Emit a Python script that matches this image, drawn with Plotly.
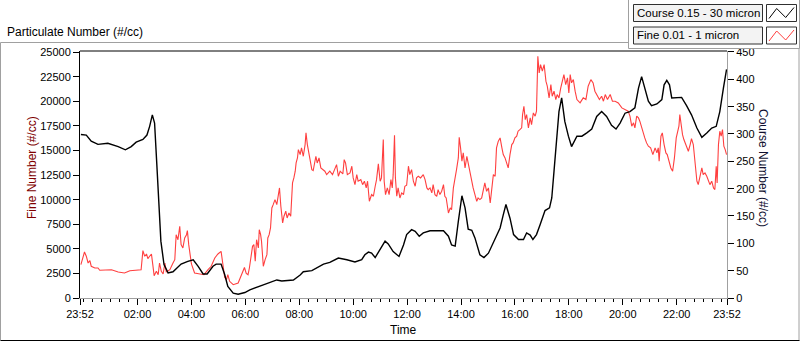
import pandas as pd
import plotly.graph_objects as go

# ---------------- data ----------------
start_time = "2000-01-01 23:52"

# Course 0.15 - 30 micron (right axis), minutes after start / #/cc
course_minutes = [2, 14, 25, 40, 62, 85, 101, 114, 125, 140,
                  149, 155, 161, 166, 171, 175, 180, 187, 196, 207,
                  225, 240, 252, 263, 274, 283, 296, 303, 314, 322,
                  329, 341, 352, 367, 378, 408, 430, 438, 449, 475,
                  490, 497, 516, 534, 542, 556, 575, 594, 612, 627,
                  634, 642, 649, 657, 668, 679, 686, 697, 710, 720,
                  727, 738, 746, 755, 764, 779, 809, 820, 827, 835,
                  842, 850, 857, 864, 872, 879, 890, 899, 909, 924,
                  935, 942, 948, 957, 965, 976, 987, 994, 1002, 1008,
                  1016, 1024, 1035, 1045, 1050, 1055, 1061, 1066, 1072, 1079,
                  1087, 1094, 1106, 1117, 1128, 1139, 1150, 1161, 1172, 1183,
                  1193, 1202, 1213, 1224, 1235, 1243, 1250, 1257, 1265, 1272,
                  1284, 1295, 1300, 1306, 1312, 1317, 1328, 1339, 1350, 1361,
                  1373, 1384, 1395, 1406, 1416, 1424, 1432, 1439]
course_values = [299, 298, 287, 281, 283, 277, 271, 277, 285, 290,
                 298, 314, 335, 320, 244, 171, 104, 61, 46, 48,
                 62, 67, 70, 58, 44, 44, 58, 62, 62, 43,
                 21, 9, 7, 10, 15, 24, 31, 33, 31, 33,
                 42, 48, 50, 58, 62, 65, 73, 70, 66, 70,
                 79, 84, 82, 74, 88, 104, 99, 85, 76, 97,
                 116, 125, 122, 113, 119, 123, 123, 113, 97, 95,
                 140, 187, 165, 126, 124, 110, 79, 74, 82, 110,
                 128, 152, 171, 146, 116, 107, 107, 119, 115, 107,
                 116, 134, 160, 165, 183, 232, 299, 341, 366, 323,
                 296, 277, 296, 296, 302, 309, 332, 341, 332, 316,
                 309, 320, 338, 341, 348, 384, 405, 384, 360, 352,
                 355, 363, 390, 398, 390, 366, 366, 367, 352, 335,
                 311, 294, 302, 311, 314, 341, 384, 418]

# Fine 0.01 - 1 micron (left axis), minutes after start / #/cc
fine_minutes = [2, 7, 10, 14, 18, 22, 25, 33, 40, 44,
                55, 70, 85, 99, 111, 122, 136, 140, 144, 148,
                151, 155, 159, 162, 165, 170, 174, 177, 181, 185,
                189, 192, 200, 207, 211, 214, 218, 222, 225, 229,
                233, 237, 239, 242, 245, 248, 255, 266, 276, 285,
                292, 300, 307, 314, 318, 322, 326, 329, 333, 341,
                352, 359, 363, 366, 370, 374, 377, 381, 384, 387,
                390, 393, 397, 399, 402, 404, 408, 412, 416, 418,
                421, 424, 427, 430, 434, 438, 441, 444, 447, 449,
                451, 454, 458, 461, 465, 469, 471, 473, 476, 479,
                481, 484, 486, 490, 493, 497, 501, 503, 506, 510,
                512, 516, 519, 523, 525, 528, 532, 536, 540, 545,
                549, 553, 556, 562, 568, 571, 575, 579, 585, 588,
                591, 595, 601, 605, 608, 612, 616, 619, 625, 629,
                633, 637, 640, 644, 649, 653, 657, 660, 664, 668,
                671, 675, 677, 680, 684, 688, 692, 695, 697, 700,
                702, 705, 708, 712, 716, 720, 723, 727, 731, 734,
                738, 742, 746, 749, 753, 758, 764, 768, 772, 775,
                779, 783, 786, 790, 794, 797, 801, 805, 809, 812,
                815, 818, 820, 824, 827, 831, 835, 838, 842, 844,
                847, 850, 853, 857, 861, 864, 868, 872, 875, 879,
                883, 886, 890, 894, 898, 901, 905, 909, 913, 916,
                920, 924, 927, 931, 935, 939, 942, 946, 950, 953,
                957, 961, 964, 968, 972, 975, 979, 983, 985, 988,
                991, 994, 998, 1002, 1005, 1009, 1013, 1016, 1019, 1022,
                1025, 1029, 1033, 1037, 1040, 1044, 1048, 1051, 1055, 1059,
                1062, 1066, 1070, 1073, 1077, 1081, 1085, 1088, 1091, 1094,
                1098, 1102, 1106, 1113, 1120, 1126, 1131, 1137, 1142, 1146,
                1151, 1156, 1161, 1165, 1169, 1174, 1180, 1185, 1191, 1198,
                1206, 1213, 1220, 1224, 1228, 1232, 1235, 1239, 1243, 1246,
                1250, 1254, 1257, 1261, 1265, 1270, 1275, 1280, 1284, 1287,
                1289, 1293, 1296, 1300, 1304, 1307, 1311, 1315, 1319, 1323,
                1327, 1329, 1333, 1335, 1338, 1341, 1344, 1349, 1354, 1358,
                1361, 1365, 1369, 1373, 1376, 1380, 1384, 1387, 1391, 1395,
                1398, 1402, 1406, 1410, 1413, 1416, 1418, 1421, 1424, 1427,
                1430, 1433, 1436, 1439]
fine_values = [3390, 4140, 4680, 4250, 3560, 3800, 3230, 3050, 3050, 2820,
               2820, 2880, 2650, 2550, 2780, 2820, 2880, 4820, 4250, 4480,
               4000, 4250, 4480, 3390, 2270, 2720, 2370, 3560, 2720, 2440,
               3560, 2650, 2880, 3560, 3900, 6440, 5930, 7300, 5430, 5090,
               6110, 6440, 6850, 5430, 4410, 3460, 2550, 2440, 2370, 2880,
               3230, 4070, 4480, 4750, 3560, 2110, 1860, 2370, 1700, 1350,
               1530, 2370, 2880, 3100, 2500, 2370, 3050, 4410, 5260, 5430,
               3740, 5930, 5090, 6950, 6440, 5770, 3230, 3900, 4410, 6110,
               6440, 7130, 9160, 9500, 10010, 9500, 10520, 11200, 9340, 8480,
               7640, 8320, 8830, 8140, 8650, 8320, 9670, 11710, 12220, 12900,
               13740, 14250, 15100, 14590, 15270, 14420, 15610, 16800, 15610, 14590,
               14250, 13060, 12960, 13920, 14420, 13740, 14250, 13230, 13060, 12900,
               12550, 12730, 12900, 12550, 13230, 13570, 12390, 12900, 12620, 14080,
               13740, 12550, 12730, 13410, 12220, 11530, 12550, 11880, 12040, 11530,
               11880, 11200, 11880, 9840, 10520, 10350, 11370, 12040, 13640, 11880,
               12220, 16120, 11880, 10520, 11200, 10520, 12040, 11200, 12550, 16560,
               12220, 10350, 11200, 10180, 10690, 10520, 11370, 11470, 13410, 12550,
               13060, 11880, 11370, 12220, 12390, 12220, 12550, 12040, 11200, 11030,
               11200, 10690, 11530, 10520, 10350, 11030, 10520, 10860, 11530, 10350,
               10180, 8830, 8650, 9160, 8990, 11200, 12550, 13060, 14250, 16360,
               15270, 13920, 14760, 13230, 14420, 13740, 12550, 11880, 11200, 10520,
               9840, 10180, 10010, 10180, 11200, 11710, 10860, 11200, 9670, 11200,
               12550, 12390, 15270, 15950, 16290, 15270, 14590, 14250, 13740, 13230,
               14590, 15610, 15780, 16290, 16460, 16970, 17130, 17310, 18660, 19510,
               18150, 18660, 17310, 18320, 17640, 18830, 18500, 19010, 24600, 22900,
               23750, 23080, 23750, 22060, 21550, 20360, 21710, 20530, 21040, 20190,
               20700, 20360, 21380, 21890, 22730, 21710, 22400, 20870, 22730, 21890,
               22220, 21040, 20190, 19850, 20360, 20190, 21550, 22220, 21890, 21040,
               20530, 20190, 20530, 20020, 20700, 20190, 20700, 20020, 20020, 19850,
               19340, 19170, 19010, 18500, 17480, 17820, 17310, 18500, 18320, 17990,
               17310, 16800, 16290, 15780, 15440, 15270, 14590, 15270, 14760, 15270,
               13920, 16460, 16800, 15610, 14760, 14590, 13740, 13230, 12900, 14250,
               16290, 16800, 17480, 18660, 17310, 16620, 16120, 15440, 14930, 15610,
               16220, 15610, 13920, 11880, 11530, 12390, 13230, 12550, 12730, 12390,
               12040, 11530, 11880, 11200, 11030, 13410, 11710, 15610, 16970, 16460,
               17130, 15440, 15100, 14590]

x_tick_times = ["2000-01-01 23:52", "2000-01-02 02:00", "2000-01-02 04:00",
                "2000-01-02 06:00", "2000-01-02 08:00", "2000-01-02 10:00",
                "2000-01-02 12:00", "2000-01-02 14:00", "2000-01-02 16:00",
                "2000-01-02 18:00", "2000-01-02 20:00", "2000-01-02 22:00",
                "2000-01-02 23:52"]
x_tick_labels = ["23:52", "02:00", "04:00", "06:00", "08:00", "10:00", "12:00",
                 "14:00", "16:00", "18:00", "20:00", "22:00", "23:52"]
fine_ticks = [0, 2500, 5000, 7500, 10000, 12500, 15000, 17500, 20000, 22500, 25000]
course_ticks = [0, 50, 100, 150, 200, 250, 300, 350, 400, 450]

# ---------------- build ----------------
t0 = pd.Timestamp(start_time)
course_t = t0 + pd.to_timedelta(course_minutes, unit="min")
fine_t = t0 + pd.to_timedelta(fine_minutes, unit="min")

FONT = "Liberation Sans, Arial, sans-serif"
RED = "#ff3f3f"

fig = go.Figure()
fig.add_trace(go.Scatter(x=fine_t, y=fine_values, mode="lines", name="Fine 0.01 - 1 micron",
                         line=dict(color=RED, width=1.1), yaxis="y"))
fig.add_trace(go.Scatter(x=course_t, y=course_values, mode="lines", name="Course 0.15 - 30 micron",
                         line=dict(color="black", width=1.4), yaxis="y2"))

W, H = 800, 342
L, R, T, B = 80, 727, 51, 298


def px(x):
    return (x - L) / (R - L)


def py(y):
    return (B - y) / (B - T)


shapes = []


def hline(x0, x1, y, color):
    shapes.append(dict(type="line", xref="paper", yref="paper", x0=px(x0), x1=px(x1),
                       y0=py(y), y1=py(y), line=dict(color=color, width=1)))


def vline(x, y0, y1, color):
    shapes.append(dict(type="line", xref="paper", yref="paper", x0=px(x), x1=px(x),
                       y0=py(y0), y1=py(y1), line=dict(color=color, width=1)))


# outer frame
hline(0.5, 628, 42.5, "#a0a0a0")
vline(0.5, 42.5, 340.5, "#a0a0a0")
vline(799, 48, 340.5, "#a0a0a0")
hline(0.5, 799.5, 340.5, "#000000")
# plot frame
hline(L, R, T, "#000000")

# legend box
shapes.append(dict(type="rect", xref="paper", yref="paper", x0=px(628.5), x1=px(799.5),
                   y0=py(48.5), y1=py(-1), line=dict(color="#a0a0a0", width=1),
                   fillcolor="white"))
for (ytop, col) in [(4.5, "black"), (27, RED)]:
    shapes.append(dict(type="rect", xref="paper", yref="paper", x0=px(633.5), x1=px(762.5),
                       y0=py(ytop + 17), y1=py(ytop), line=dict(color="#303030", width=1),
                       fillcolor="#f3f3f3"))
    shapes.append(dict(type="rect", xref="paper", yref="paper", x0=px(766.5), x1=px(796.5),
                       y0=py(ytop + 17), y1=py(ytop), line=dict(color="#303030", width=1),
                       fillcolor="white"))
    pts = [(769, ytop + 14), (776.7, ytop + 4), (785.7, ytop + 13), (794, ytop + 3)]
    path = "M " + " L ".join(f"{px(a)},{py(b)}" for a, b in pts)
    shapes.append(dict(type="path", xref="paper", yref="paper", path=path,
                       line=dict(color=col, width=1)))

annotations = [
    dict(text="Particulate Number (#/cc)", xref="paper", yref="paper", x=px(5), y=py(32),
         xanchor="left", yanchor="middle", showarrow=False, font=dict(size=12, color="black")),
    dict(text="Course 0.15 - 30 micron", xref="paper", yref="paper", x=px(635), y=py(13),
         xanchor="left", yanchor="middle", showarrow=False, font=dict(size=11.5, color="black")),
    dict(text="Fine 0.01 - 1 micron", xref="paper", yref="paper", x=px(635), y=py(35.5),
         xanchor="left", yanchor="middle", showarrow=False, font=dict(size=11.5, color="black")),
    dict(text="Fine Number (#/cc)", xref="paper", yref="paper", x=px(32), y=py(168),
         xanchor="center", yanchor="middle", textangle=-90, showarrow=False,
         font=dict(size=12, color="#800000")),
    dict(text="Course Number (#/cc)", xref="paper", yref="paper", x=px(763), y=py(168),
         xanchor="center", yanchor="middle", textangle=90, showarrow=False,
         font=dict(size=12, color="#101030")),
    dict(text="Time", xref="paper", yref="paper", x=px(403), y=py(330),
         xanchor="center", yanchor="middle", showarrow=False, font=dict(size=12, color="black")),
]

fig.update_layout(
    width=W, height=H,
    margin=dict(l=L, r=W - R, t=T, b=H - B, pad=0),
    paper_bgcolor="white", plot_bgcolor="white",
    font=dict(family=FONT, size=11, color="black"),
    showlegend=False,
    hovermode=False,
    shapes=shapes,
    annotations=annotations,
    xaxis=dict(
        type="date",
        range=[x_tick_times[0], x_tick_times[-1]],
        tickmode="array", tickvals=x_tick_times, ticktext=x_tick_labels,
        ticks="outside", ticklen=6, tickcolor="black", tickwidth=1,
        showgrid=False, zeroline=False,
        showline=True, linecolor="#a0a0a0", linewidth=1,
        tickfont=dict(size=11, color="black"),
        minor=dict(dtick=20 * 60 * 1000, tick0="2000-01-02 00:00", ticks="outside",
                   ticklen=3, tickcolor="black", showgrid=False),
    ),
    yaxis=dict(
        range=[0, 25130],
        tickmode="array", tickvals=fine_ticks, ticktext=[str(v) for v in fine_ticks],
        ticks="outside", ticklen=6, tickcolor="black",
        showgrid=False, zeroline=False,
        showline=True, linecolor="black", linewidth=1,
        tickfont=dict(size=11, color="black"),
    ),
    yaxis2=dict(
        range=[0, 451.8], overlaying="y", side="right",
        tickmode="array", tickvals=course_ticks, ticktext=[str(v) for v in course_ticks],
        ticks="outside", ticklen=6, tickcolor="black",
        showgrid=False, zeroline=False,
        showline=True, linecolor="#a0a0a0", linewidth=1,
        tickfont=dict(size=11, color="black"),
    ),
)

fig.write_html("out.html", config={"displayModeBar": False},
               post_script="document.body.style.margin='0px';")
